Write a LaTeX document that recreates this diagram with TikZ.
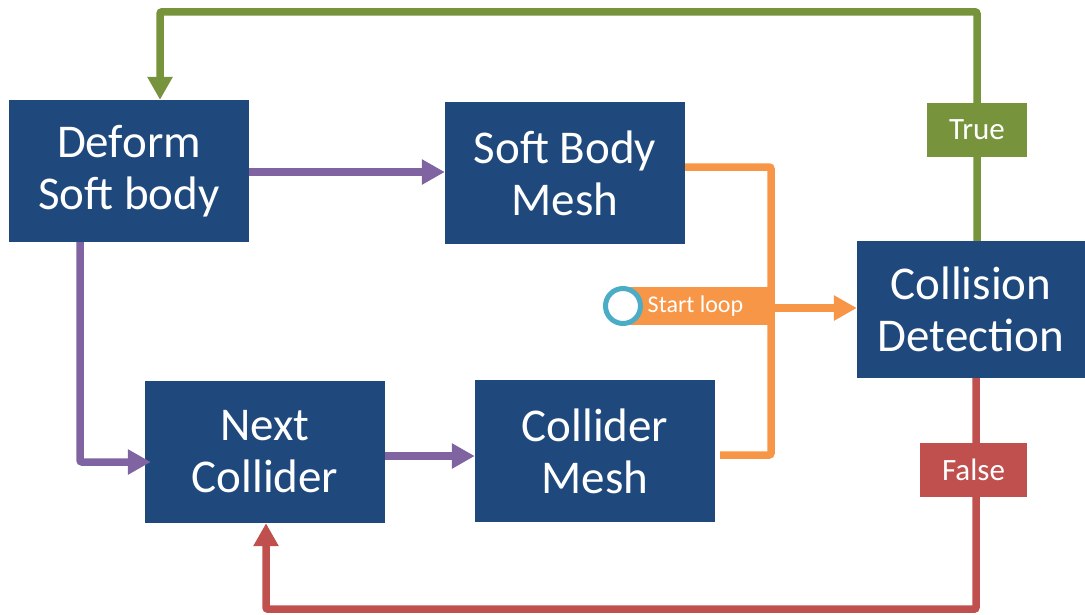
\documentclass[tikz,border=0pt]{standalone}
\usepackage{fontspec}
\setmainfont{Carlito}
\usetikzlibrary{arrows.meta}

\definecolor{boxblue}{HTML}{1F497D}
\definecolor{flowpurple}{HTML}{8064A2}
\definecolor{floworange}{HTML}{F79646}
\definecolor{flowgreen}{HTML}{77933C}
\definecolor{flowred}{HTML}{C0504D}
\definecolor{ringcyan}{HTML}{4BACC6}

\tikzset{
  stepbox/.style={fill=boxblue, text=white, minimum width=240pt, minimum height=142pt,
    inner sep=0pt, align=center, font=\fontsize{47}{52}\selectfont},
  flow/.style={line width=7.5pt, rounded corners=2pt},
  tip/.style={-{Triangle[width=24pt,length=23pt]}},
  tag/.style={text=white, inner sep=0pt, font=\fontsize{31}{34}\selectfont},
}

\begin{document}
\begin{tikzpicture}[x=1pt, y=-1pt]
  \useasboundingbox (0,0) rectangle (1085,614);

  % process blocks
  \node[stepbox] (def) at (129,171) {Deform\\Soft body};
  \node[stepbox] (sbm) at (565,173) {Soft Body\\Mesh};
  \node[stepbox, minimum width=228pt, minimum height=137pt] (cd) at (971,309.5) {Collision\\Detection};
  \node[stepbox] (nc) at (265,452) {Next\\Collider};
  \node[stepbox] (cm) at (595,451) {Collider\\Mesh};

  % start marker feeding the collision test
  \coordinate (oj) at (771,308);
  \node[fill=floworange, text=white, minimum width=145pt, minimum height=38pt,
        inner sep=0pt, font=\fontsize{24}{28}\selectfont] (sl) at (695.5,306) {Start loop};
  \node[circle, draw=ringcyan, line width=5pt, fill=white, minimum size=35pt,
        inner sep=0pt] (ring) at (623,306) {};

  % purple: deformation flow
  \draw[flow, tip, flowpurple] ([yshift=-1pt]def.east) -- ([yshift=-1pt]def.east -| sbm.west);
  \draw[flow, tip, flowpurple] ([xshift=-49pt]def.south) |- ([yshift=-10pt,xshift=6pt]nc.west);
  \draw[flow, tip, flowpurple] ([yshift=-4pt]nc.east) -- ([yshift=-4pt]nc.east -| cm.west);

  % orange: meshes gathered into the collision test
  \draw[flow, floworange] ([yshift=6pt]sbm.east) -| (oj) |- ([yshift=-4pt,xshift=5pt]cm.east);
  \draw[flow, tip, floworange] (oj) -- (oj -| cd.west);

  % green: collision found, deform again
  \draw[flow, tip, flowgreen] ([xshift=6pt]cd.north) -- ++(0,-229) -| ([xshift=31pt]def.north);
  % red: no collision, try the next collider
  \draw[flow, tip, flowred] ([xshift=5pt]cd.south) -- ++(0,231) -| ([xshift=1pt]nc.south);

  % branch labels
  \node[tag, fill=flowgreen, minimum width=100pt, minimum height=54pt] (yes) at (977,130) {True};
  \node[tag, fill=flowred, minimum width=107pt, minimum height=54pt] (no) at (973.5,470) {False};
\end{tikzpicture}
\end{document}
